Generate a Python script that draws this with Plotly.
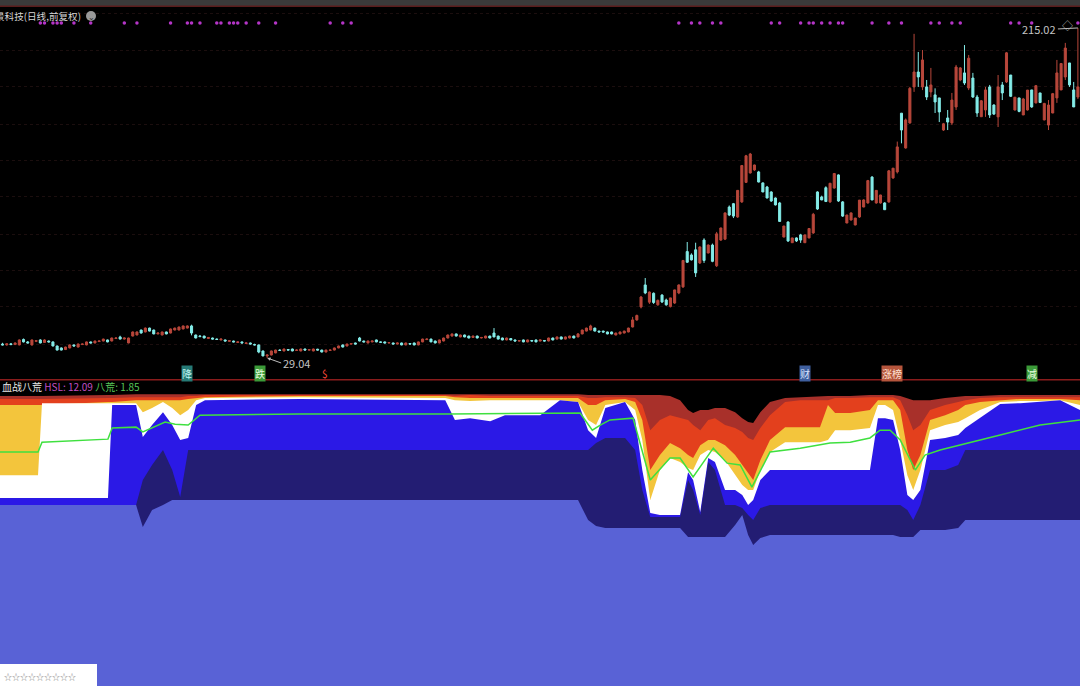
import plotly.graph_objects as go

# ---------------- price data (daily candles) ----------------
opens = [36.9,36.4,37.0,36.6,36.4,39.5,38.1,36.4,38.4,39.2,
         37.8,38.6,38.1,35.8,34.7,33.8,34.7,36.4,35.2,36.6,
         36.4,38.1,37.5,38.3,38.6,39.2,38.6,40.0,40.9,39.7,
         37.5,41.4,42.0,44.8,43.7,45.9,44.8,42.6,42.0,43.7,
         43.1,44.8,44.8,45.4,45.9,47.1,42.0,41.4,41.4,40.0,
         40.3,39.7,39.2,39.2,38.4,38.6,37.8,38.1,37.2,37.5,
         36.6,36.4,33.0,30.2,30.7,31.9,33.5,33.0,33.8,34.1,
         33.3,33.0,34.1,33.5,33.0,34.0,33.5,32.4,33.3,33.5,
         34.7,36.4,35.8,36.9,37.5,40.3,38.6,37.5,38.1,39.2,
         38.1,38.1,37.5,37.5,36.9,37.5,36.4,37.2,37.5,36.4,
         38.1,39.4,39.7,38.6,37.5,38.6,40.3,41.4,42.6,40.9,
         42.0,41.4,40.6,41.4,40.3,40.3,41.4,43.1,41.4,40.3,
         39.2,40.0,39.2,38.6,39.2,38.1,38.9,39.2,38.6,38.9,
         38.6,40.3,39.7,40.9,39.7,40.3,41.4,40.9,42.6,44.2,
         44.8,45.9,44.2,44.2,43.7,43.7,42.0,42.6,43.1,43.7,
         46.5,50.5,57.8,70.2,60.5,65.5,59.0,64.5,61.7,58.0,
         60.0,65.7,69.1,89.0,87.1,90.0,82.6,95.5,88.2,92.7,
         81.0,95.5,96.0,114.1,116.0,108.5,117.0,128.0,133.3,135.0,
         133.9,127.7,125.4,122.6,119.2,116.4,97.2,105.7,94.0,96.7,
         98.4,94.0,96.7,99.5,122.6,119.8,125.0,117.0,124.8,132.2,
         117.0,105.1,106.8,104.0,108.5,114.1,116.4,131.0,116.4,116.4,
         116.4,117.0,130.5,133.9,167.0,147.4,161.5,181.8,190.2,181.8,
         181.8,179.0,177.3,175.6,157.5,164.3,161.5,170.5,185.7,189.7,
         181.2,186.8,176.1,165.0,168.8,181.8,171.6,164.9,182.9,184.6,
         188.5,168.8,175.6,166.0,168.8,180.1,172.8,178.4,163.2,160.3,
         167.1,175.6,180.1,187.4,195.3,180.1,176.1]
highs = [37.6,37.2,37.5,37.8,39.5,40.0,38.6,39.4,39.0,39.6,
         39.6,38.9,38.4,36.0,35.0,35.4,36.7,36.6,37.2,37.2,
         38.3,38.3,38.8,38.9,39.9,39.4,40.5,40.6,41.6,40.5,
         40.5,44.0,44.0,45.0,46.2,46.1,45.0,43.4,43.9,43.9,
         45.6,46.1,46.7,47.3,47.4,47.8,42.2,42.0,41.6,40.9,
         40.5,40.0,39.9,39.4,39.0,38.8,38.3,38.3,37.7,37.7,
         37.1,36.6,33.2,31.0,33.2,33.7,33.9,34.3,34.0,34.3,
         33.8,34.3,34.3,33.9,34.3,34.2,33.7,33.7,33.8,34.9,
         36.0,36.6,37.1,37.3,37.7,40.9,38.8,38.8,38.8,39.4,
         38.3,38.3,37.9,37.7,37.7,37.7,37.7,37.4,37.7,38.3,
         39.9,40.0,39.9,38.8,39.4,40.5,42.2,42.8,42.8,42.2,
         42.2,41.6,41.6,41.6,40.9,41.6,41.6,45.9,41.6,40.5,
         40.5,40.2,39.4,39.0,39.4,39.4,39.1,39.4,39.4,39.1,
         40.5,40.5,41.1,41.1,41.1,41.6,41.6,43.1,45.0,46.1,
         47.8,46.1,44.4,44.4,43.9,43.9,43.3,43.9,44.4,46.1,
         52.2,53.5,64.0,74.1,66.5,66.0,62.0,65.0,62.5,63.0,
         67.5,70.5,84.3,94.4,88.0,94.0,92.0,96.5,93.0,93.5,
         100.1,102.5,111.0,115.0,116.4,123.7,137.8,143.5,144.6,138.0,
         134.5,128.0,126.0,123.0,119.5,117.0,103.5,106.0,96.8,97.0,
         99.0,98.5,102.3,110.8,123.0,120.5,125.8,127.7,133.3,132.5,
         117.5,109.8,111.0,108.0,118.1,118.5,129.4,131.5,123.7,121.0,
         116.8,135.0,136.1,151.0,167.1,164.0,181.8,211.7,201.5,202.6,
         185.7,192.5,181.0,175.6,161.5,168.8,178.4,194.2,193.0,205.4,
         199.8,189.7,177.3,174.4,181.8,182.9,172.0,188.5,184.6,201.5,
         188.5,176.1,175.6,175.6,180.1,180.1,182.9,178.4,172.8,174.4,
         178.4,197.0,195.3,206.6,195.3,184.6,215.02]
lows = [36.2,36.0,36.3,36.4,36.2,37.8,37.3,36.0,38.0,37.3,
        37.5,37.8,35.6,33.3,33.3,33.5,34.5,35.5,35.0,36.4,
        36.2,37.3,37.3,38.1,38.4,37.9,38.4,39.8,39.5,39.5,
        37.3,41.2,41.8,42.8,43.5,44.0,42.4,42.4,41.8,42.4,
        42.9,44.6,44.6,45.2,45.7,41.8,40.1,40.8,40.1,39.8,
        39.5,39.3,39.0,38.4,38.2,37.9,37.5,37.3,37.0,36.7,
        36.2,31.7,30.0,29.04,30.5,31.7,33.1,32.8,33.3,32.8,
        33.1,32.8,33.3,33.2,32.8,33.3,32.2,32.2,33.1,33.3,
        34.5,35.0,35.6,36.6,36.7,38.4,37.9,37.3,37.9,37.9,
        37.6,37.3,37.3,36.7,36.7,36.2,36.2,36.7,36.2,36.2,
        37.9,39.2,38.0,37.3,37.3,38.4,40.1,41.2,41.2,40.7,
        40.7,40.1,40.4,40.1,40.1,40.1,40.1,40.7,39.5,39.0,
        39.0,39.0,38.4,38.3,37.9,37.9,38.4,37.9,38.4,38.4,
        38.4,39.0,39.5,39.5,39.5,40.1,40.1,40.7,42.4,44.0,
        44.6,44.0,43.5,43.3,42.4,42.4,41.8,42.4,42.9,43.5,
        46.3,50.0,57.0,65.0,59.5,59.5,58.5,60.0,58.5,57.5,
        59.5,65.0,68.5,82.6,84.0,74.7,82.0,82.6,88.0,83.0,
        80.3,95.0,95.5,109.0,107.9,108.0,116.4,127.7,133.0,134.5,
        128.0,122.5,119.0,117.0,115.0,105.7,97.0,94.4,93.9,94.4,
        93.9,93.9,96.5,99.0,112.5,118.0,117.0,116.4,124.5,117.0,
        108.5,105.0,106.5,103.8,108.0,114.0,116.0,118.0,116.0,116.0,
        112.5,116.5,130.0,133.0,150.0,147.0,161.0,179.0,181.8,180.0,
        174.4,176.0,167.1,162.0,157.0,157.5,160.3,168.8,185.0,182.9,
        180.0,175.6,164.9,164.9,164.9,164.3,166.0,159.2,174.4,184.0,
        176.1,168.5,167.5,166.0,168.5,170.0,172.5,172.8,163.0,157.5,
        167.0,172.8,180.0,185.7,181.8,170.5,175.0]
closes = [36.4,37.0,36.6,37.5,39.2,38.1,37.5,39.2,38.8,37.5,
          39.2,38.1,35.8,33.5,33.5,35.2,36.4,35.8,36.9,36.9,
          38.1,37.5,38.6,38.6,39.7,38.1,40.3,40.3,39.7,40.3,
          40.3,43.7,43.7,43.1,45.9,44.2,42.6,43.1,43.7,42.6,
          45.4,45.9,46.5,47.1,47.1,43.1,40.3,41.1,40.3,40.6,
          39.7,39.5,39.7,38.6,38.8,38.1,38.1,37.5,37.5,36.9,
          36.4,32.4,30.2,30.7,33.0,33.5,33.3,34.1,33.5,33.0,
          33.5,34.1,33.5,33.7,34.1,33.5,32.4,33.5,33.5,34.7,
          35.8,35.2,36.9,37.1,36.9,38.6,38.1,38.6,38.6,38.1,
          37.9,37.5,37.7,36.9,37.5,36.4,37.5,36.9,36.4,38.1,
          39.7,39.7,38.1,37.5,39.2,40.3,42.0,42.6,41.4,42.0,
          40.9,40.3,41.4,40.3,40.6,41.4,40.3,40.9,39.7,39.2,
          40.3,39.2,38.6,38.8,38.1,39.2,38.6,38.1,39.2,38.6,
          40.3,39.2,40.9,39.7,40.9,41.4,40.3,42.6,44.8,45.9,
          47.1,44.2,43.7,43.7,42.6,42.6,43.1,43.7,44.2,45.9,
          50.5,53.0,63.4,65.7,66.2,60.3,61.5,60.6,59.0,62.9,
          67.4,70.2,84.0,83.0,84.3,77.0,91.6,84.0,92.7,83.5,
          99.0,102.3,110.8,109.6,109.0,123.5,137.5,143.0,144.0,137.8,
          128.2,122.6,119.2,117.5,115.3,106.0,103.4,95.0,96.7,95.0,
          95.5,98.4,102.0,110.0,113.0,118.1,117.2,127.5,133.0,117.5,
          109.0,109.6,110.8,107.9,118.0,118.1,129.0,118.1,123.5,120.9,
          112.6,134.5,136.0,148.0,157.5,163.2,181.0,190.2,187.4,197.0,
          176.1,182.9,173.3,167.7,161.0,162.0,174.4,193.0,192.5,184.0,
          198.0,176.1,167.1,174.0,180.1,166.0,166.5,181.8,178.4,201.0,
          176.5,176.0,168.0,175.0,180.0,170.5,182.5,173.0,172.5,171.6,
          178.0,189.7,195.0,203.7,182.9,170.5,181.8]

price_grid = [36.9, 57.8, 78.1, 98.9, 119.8, 140.1, 160.9, 181.8, 202.1, 222.9]
signal_days = [9, 10, 12, 13, 14, 17, 21, 29, 32, 40, 44, 45, 47, 51, 52, 54, 55, 56, 58,
               61, 65, 78, 81, 83, 161, 164, 166, 169, 171, 183, 185, 190, 192, 193, 195,
               197, 199, 200, 207, 211, 214, 221, 223, 226, 228, 240, 242, 245, 256]
signal_level = 217.85
low_day, low_val = 63, 29.04
high_day, high_val = 256, 215.02

# ---------------- indicator 血战八荒 ----------------
ind_days = [-0.6, 8.45, 9.4, 25.1, 26.1, 31.8, 33.4, 35.6, 38.2, 40.4,
            42.3, 44.2, 46.1, 48.2, 70.8, 105.4, 107.7, 111.3, 116.1, 119.6,
            128.0, 132.7, 137.0, 139.4, 141.3, 143.5, 148.2, 150.6, 152.3, 154.2,
            156.5, 158.9, 161.3, 163.2, 164.4, 166.1, 168.0, 169.6, 172.0, 174.4,
            176.1, 177.5, 178.7, 180.4, 182.7, 186.3, 189.9, 194.6, 196.5, 198.2,
            201.8, 206.5, 208.4, 210.1, 212.0, 213.7, 215.4, 216.8, 218.5, 220.8,
            224.4, 227.5, 229.2, 232.7, 237.5, 242.3, 247.0, 251.8, 256.5]
ind_dark = [96.7, 96.7, 96.7, 97.0, 97.0, 97.3, 97.3, 97.3, 97.3, 97.3,
            97.3, 97.3, 97.3, 97.3, 97.3, 97.3, 97.3, 97.3, 97.3, 97.3,
            97.3, 97.3, 97.3, 97.0, 97.0, 97.0, 97.0, 97.0, 97.0, 97.0,
            97.0, 96.7, 95.3, 92.0, 91.0, 92.0, 92.0, 92.7, 92.7, 91.3,
            89.3, 88.0, 87.7, 91.3, 94.7, 96.0, 96.3, 96.7, 96.7, 96.7,
            96.7, 97.0, 97.0, 97.0, 97.0, 96.7, 96.0, 95.3, 95.3, 95.3,
            96.0, 96.3, 96.7, 96.7, 97.0, 97.0, 97.0, 97.0, 97.0]
ind_red = [95.7, 95.7, 95.7, 96.0, 96.0, 96.3, 96.3, 96.3, 96.3, 96.3,
           96.3, 96.7, 96.7, 97.0, 97.0, 97.0, 96.7, 97.0, 96.7, 96.7,
           96.7, 96.7, 96.7, 96.0, 96.0, 96.3, 96.3, 96.0, 93.7, 85.3,
           88.7, 90.3, 89.3, 88.7, 87.0, 85.3, 88.7, 89.3, 87.0, 86.0,
           84.7, 82.7, 82.0, 86.0, 90.3, 94.7, 95.3, 95.3, 95.3, 96.0,
           96.0, 96.3, 96.3, 96.3, 96.3, 95.3, 90.3, 85.3, 87.0, 92.0,
           93.7, 94.7, 95.3, 96.0, 96.3, 96.3, 96.3, 96.3, 96.3]
ind_yellow = [93.7, 93.7, 93.7, 94.7, 94.7, 95.3, 95.3, 95.3, 95.3, 95.3,
              95.3, 95.7, 96.0, 96.3, 96.7, 96.7, 96.3, 96.0, 96.0, 96.0,
              96.0, 96.0, 96.0, 93.7, 93.7, 95.3, 95.7, 94.7, 88.7, 72.0,
              77.0, 81.0, 79.3, 77.0, 76.0, 80.3, 82.0, 82.0, 80.3, 77.0,
              73.7, 71.3, 68.7, 75.3, 82.0, 86.3, 86.3, 86.3, 93.7, 91.0,
              91.0, 92.0, 95.3, 95.3, 95.3, 92.0, 78.7, 72.0, 77.0, 88.7,
              90.3, 92.0, 93.7, 94.7, 95.3, 95.7, 95.7, 95.7, 95.3]
ind_white = [70.3, 70.3, 94.3, 94.3, 94.3, 94.3, 91.3, 92.7, 94.7, 92.7,
             90.3, 92.0, 95.3, 96.0, 96.3, 96.0, 95.3, 95.0, 95.3, 95.3,
             95.3, 95.3, 94.7, 88.7, 87.0, 93.7, 94.7, 92.0, 82.0, 62.0,
             72.0, 76.0, 74.7, 72.7, 72.0, 77.0, 78.7, 78.0, 75.3, 70.3,
             67.0, 65.3, 65.3, 72.0, 78.0, 81.3, 81.3, 81.3, 82.0, 85.3,
             85.3, 86.0, 93.7, 93.7, 92.0, 82.0, 70.3, 65.3, 72.0, 85.3,
             87.0, 88.0, 89.3, 92.0, 94.7, 95.0, 95.0, 95.3, 93.7]
ind_blue = [62.7, 62.7, 62.7, 62.7, 93.7, 93.7, 83.0, 87.0, 91.3, 87.0,
            82.0, 82.7, 93.7, 95.3, 95.7, 95.3, 88.7, 89.3, 88.3, 90.3,
            90.3, 95.3, 94.7, 85.3, 82.7, 92.7, 94.7, 88.7, 72.0, 57.7,
            57.0, 57.0, 57.0, 71.3, 68.7, 58.0, 76.0, 74.7, 65.3, 65.3,
            63.7, 60.3, 62.0, 68.7, 72.0, 72.0, 72.0, 72.0, 72.0, 72.0,
            72.0, 72.0, 89.3, 89.3, 88.7, 78.7, 63.7, 62.0, 65.3, 82.0,
            82.7, 83.7, 86.0, 89.3, 94.0, 94.3, 94.7, 95.3, 92.0]
ind_navy = [60.3, 60.3, 60.3, 60.3, 60.3, 60.3, 68.7, 73.7, 78.7, 72.0,
            63.0, 78.7, 78.7, 78.7, 78.7, 78.7, 78.7, 78.7, 78.7, 78.7,
            78.7, 78.7, 78.7, 78.7, 81.0, 82.7, 82.7, 78.7, 65.3, 56.3,
            56.3, 56.3, 56.3, 68.7, 65.3, 57.0, 74.7, 72.0, 60.3, 60.3,
            59.3, 57.0, 55.3, 59.3, 60.3, 60.3, 60.3, 60.3, 60.3, 60.3,
            60.3, 60.3, 60.3, 60.3, 60.3, 60.3, 58.7, 55.3, 60.3, 72.0,
            72.0, 73.7, 78.7, 78.7, 78.7, 78.7, 78.7, 78.7, 78.7]
ind_base = [60.3, 60.3, 60.3, 60.3, 60.3, 60.3, 53.0, 58.7, 60.3, 62.0,
            62.0, 62.0, 62.0, 62.0, 62.0, 62.0, 62.0, 62.0, 62.0, 62.0,
            62.0, 62.0, 62.0, 55.3, 53.3, 52.7, 52.7, 52.7, 52.7, 52.7,
            52.7, 52.7, 52.7, 49.7, 49.7, 49.7, 49.7, 49.7, 49.7, 53.7,
            57.0, 50.3, 47.0, 49.3, 50.3, 50.3, 50.3, 50.3, 50.3, 50.3,
            50.3, 50.3, 50.3, 50.3, 50.3, 49.7, 49.7, 49.7, 52.0, 52.0,
            52.0, 52.7, 55.3, 55.3, 55.3, 55.3, 55.3, 55.3, 55.3]
hsl_days = [-0.6, 8.45, 9.4, 25.1, 26.1, 31.8, 33.4, 38.7, 41.1, 44.2,
            47.0, 70.8, 106.5, 137.5, 140.4, 142.3, 144.6, 150.1, 154.2, 158.9,
            161.3, 164.4, 169.2, 172.5, 175.6, 178.4, 182.7, 189.9, 197.0, 201.8,
            206.5, 208.9, 211.3, 213.7, 217.3, 219.6, 223.2, 228.0, 237.5, 247.0, 256.5]
hsl_vals = [78.0, 78.0, 81.3, 82.3, 86.0, 86.3, 84.7, 88.0, 87.3, 87.0,
            90.3, 90.7, 90.7, 91.0, 85.3, 87.0, 88.7, 89.3, 68.7, 76.0,
            76.0, 69.7, 79.3, 74.3, 73.7, 66.3, 78.0, 79.3, 81.0, 81.3,
            82.7, 85.3, 85.3, 82.0, 72.0, 77.0, 78.7, 80.3, 83.7, 87.0, 88.7]

n = len(opens)
for name, arr in [("highs", highs), ("lows", lows), ("closes", closes)]:
    assert len(arr) == n, (name, len(arr), n)
for name, arr in [("dark", ind_dark), ("red", ind_red), ("yellow", ind_yellow), ("white", ind_white),
                  ("blue", ind_blue), ("navy", ind_navy), ("base", ind_base)]:
    assert len(arr) == len(ind_days), (name, len(arr), len(ind_days))
assert len(hsl_days) == len(hsl_vals)
days = list(range(n))

UP = "#b8473b"
DOWN = "#84ece8"
FONT = "Noto Sans CJK SC"

fig = go.Figure()

layer_styles = [(ind_dark, "#a8302a"), (ind_red, "#e3401d"), (ind_yellow, "#f3c53c"),
                (ind_white, "#ffffff"), (ind_blue, "#2b19e6"), (ind_navy, "#231d73"),
                (ind_base, "#5962d6")]
for vals, col in layer_styles:
    fig.add_trace(go.Scatter(x=ind_days, y=vals, mode="lines", line=dict(width=0, color=col),
                             fill="tozeroy", fillcolor=col, hoverinfo="skip",
                             xaxis="x", yaxis="y", showlegend=False))
fig.add_trace(go.Scatter(x=hsl_days, y=hsl_vals, mode="lines",
                         line=dict(color="#3fe03f", width=1.5), xaxis="x", yaxis="y",
                         showlegend=False, hoverinfo="skip"))

fig.add_trace(go.Candlestick(x=days, open=opens, high=highs, low=lows, close=closes,
                             xaxis="x2", yaxis="y2", whiskerwidth=0,
                             increasing=dict(line=dict(color=UP, width=1), fillcolor=UP),
                             decreasing=dict(line=dict(color=DOWN, width=1), fillcolor=DOWN),
                             showlegend=False, hoverinfo="skip"))
fig.add_trace(go.Scatter(x=signal_days, y=[signal_level] * len(signal_days), mode="markers",
                         marker=dict(color="#b535c8", size=3.5), xaxis="x2", yaxis="y2",
                         showlegend=False, hoverinfo="skip"))

PRICE_DOM = [0.449, 0.991]
IND_DOM = [0.0, 0.446]
XR = [-0.6, 256.5]

fig.update_layout(
    width=1080, height=686, margin=dict(l=0, r=0, t=0, b=0),
    paper_bgcolor="#000000", plot_bgcolor="#000000",
    showlegend=False,
    xaxis=dict(domain=[0, 1], range=XR, anchor="y", visible=False),
    xaxis2=dict(domain=[0, 1], range=XR, anchor="y2", visible=False, matches="x",
                rangeslider=dict(visible=False)),
    yaxis=dict(domain=IND_DOM, range=[0, 102], visible=False),
    yaxis2=dict(domain=PRICE_DOM, range=[17.77, 227.3], showticklabels=False, ticks="",
                zeroline=False, showline=False, tickvals=price_grid, showgrid=True,
                gridcolor="rgba(85,42,42,0.32)", griddash="dot", gridwidth=1),
    font=dict(family=FONT),
)

shapes = [
    dict(type="rect", xref="paper", yref="paper", x0=0, x1=1, y0=0.991, y1=1,
         fillcolor="#3a3a3a", line=dict(width=0), layer="above"),
    dict(type="line", xref="paper", yref="paper", x0=0, x1=1, y0=0.991, y1=0.991,
         line=dict(color="#5a1c1c", width=1.5), layer="above"),
    dict(type="line", xref="paper", yref="paper", x0=0, x1=1, y0=0.4465, y1=0.4465,
         line=dict(color="#8a1c1c", width=1.5), layer="above"),
    dict(type="rect", xref="paper", yref="paper", x0=0, x1=97 / 1080, y0=0, y1=22 / 686,
         fillcolor="#ffffff", line=dict(width=0), layer="above"),
    dict(type="circle", xref="paper", yref="paper", x0=86 / 1080, x1=96 / 1080,
         y0=1 - 21 / 686, y1=1 - 11 / 686, fillcolor="#9a9a9a", line=dict(width=0), layer="above"),
]
fig.update_layout(shapes=shapes)

ann = []
ann.append(dict(xref="paper", yref="paper", x=-0.0065, y=1 - 16 / 686, xanchor="left", yanchor="middle",
                text="景科技(日线,前复权)", showarrow=False,
                font=dict(size=9.6, color="#d6d6d6", family=FONT)))
ann.append(dict(xref="paper", yref="paper", x=91 / 1080, y=1 - 16 / 686, xanchor="center", yanchor="middle",
                text="⌄", showarrow=False, font=dict(size=8, color="#2a2a2a", family=FONT)))
ann.append(dict(xref="paper", yref="paper", x=0, y=1 - 386 / 686, xanchor="left", yanchor="middle",
                text="血战八荒 <span style='color:#c24fc2'>HSL: 12.09</span> "
                     "<span style='color:#58c858'>八荒: 1.85</span>",
                showarrow=False, font=dict(size=10, color="#e6e6e6", family=FONT)))
ann.append(dict(xref="x2", yref="y2", x=low_day, y=low_val, ax=14, ay=5, text="29.04",
                showarrow=True, arrowhead=2, arrowsize=0.7, arrowwidth=1, arrowcolor="#bdbdbd",
                xanchor="left", font=dict(size=11, color="#c4c4c4", family=FONT)))
ann.append(dict(xref="x2", yref="y2", x=high_day, y=high_val, ax=-20, ay=1, text="215.02",
                showarrow=True, arrowhead=0, arrowwidth=1, arrowcolor="#bdbdbd",
                xanchor="right", font=dict(size=11, color="#c4c4c4", family=FONT)))
ann.append(dict(xref="paper", yref="paper", x=1075 / 1080, y=1 - 15 / 686, text="◇", showarrow=False,
                font=dict(size=11, color="#bbbbbb", family=FONT)))

label_y = 1 - 373 / 686
labels = [(44, "降", "#bff4f0", "#267a76"), (61.3, "跌", "#e8ffe0", "#3b9a38"),
          (76.8, "$", "#ff4a3a", "rgba(0,0,0,0)"), (191, "财", "#d8e4ff", "#3f5f9e"),
          (211.8, "涨榜", "#ffe2d0", "#b5553c"), (245.1, "减", "#e8ffe0", "#3b9a38")]
for d, t, fc, bc in labels:
    ann.append(dict(xref="x2", yref="paper", x=d, y=label_y, text=t, showarrow=False,
                    bgcolor=bc, borderpad=0, font=dict(size=10, color=fc, family=FONT)))
ann.append(dict(xref="paper", yref="paper", x=2 / 1080, y=10 / 686, xanchor="left", yanchor="middle",
                text="☆☆☆☆☆☆☆☆☆", showarrow=False, font=dict(size=8, color="#8a8a8a", family=FONT)))
fig.update_layout(annotations=ann)

fig.write_html("out.html", config={"displayModeBar": False},
               post_script="document.body.style.margin='0';"
                           "document.body.style.background='#000';")
